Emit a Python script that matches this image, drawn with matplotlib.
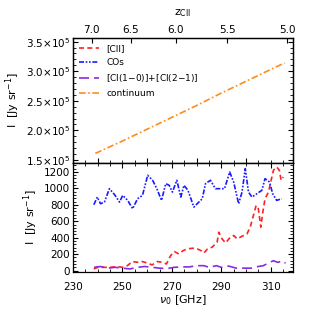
import matplotlib
matplotlib.use("Agg")
import matplotlib.pyplot as plt
from matplotlib.ticker import FixedLocator, FuncFormatter, MultipleLocator

# series
NU_CO = [238.4, 239.8, 241.1, 242.7, 244.7, 246.8, 248.8, 250.1, 252.1, 254.1,
         256.1, 258.1, 260.2, 262.2, 263.9, 265.8, 267.5, 268.9, 270.2, 272.0,
         273.6, 274.9, 276.5, 278.9, 280.9, 282.3, 283.6, 285.6, 287.6, 289.7,
         291.3, 293.4, 295.0, 297.0, 298.4, 299.7, 301.0, 302.4, 304.4, 306.4,
         307.7, 309.5, 310.8, 312.4, 314.5]
CO = [801, 894, 813, 833, 996, 923, 833, 915, 854, 752,
      874, 915, 1159, 1098, 996, 854, 1057, 1037, 955, 1098,
      894, 1037, 976, 772, 833, 874, 1057, 1098, 996, 996,
      996, 1199, 1077, 813, 955, 1240, 955, 894, 935, 976,
      1118, 1077, 935, 854, 874]

NU_CII = [238.4, 240.0, 242.0, 245.0, 248.0, 250.0, 252.0, 254.0, 256.0, 258.0,
          260.0, 262.0, 264.0, 266.0, 267.8, 269.5, 271.0, 272.8, 274.6, 276.3,
          278.3, 280.3, 281.7, 283.0, 284.4, 286.3, 288.3, 289.0, 290.3, 291.7,
          293.7, 295.0, 296.4, 297.7, 299.0, 300.4, 301.7, 303.0, 304.1, 305.0,
          306.0, 306.8, 307.7, 309.1, 310.0, 311.1, 312.4, 313.5, 314.2, 315.1]
CII = [20, 40, 40, 40, 49, 40, 61, 110, 102, 110,
       93, 69, 110, 102, 81, 183, 232, 203, 244, 264,
       272, 264, 244, 215, 264, 285, 346, 467, 386, 337,
       407, 427, 386, 407, 427, 447, 528, 671, 793, 752,
       528, 711, 874, 955, 1077, 1220, 1260, 1220, 1098, 1138]

NU_CI = [238.5, 241, 244, 247, 250, 253, 256, 259, 262, 265,
         268, 271, 274, 277, 280, 283, 285, 288, 290, 293,
         296, 299, 302, 305, 307, 309, 311, 313, 314.5, 316]
CI = [40, 50, 30, 40, 30, 20, 40, 50, 40, 30,
      25, 40, 45, 45, 60, 60, 40, 60, 40, 55,
      30, 30, 30, 50, 60, 90, 120, 100, 120, 90]

NU_CONT = [239.0, 250.0, 260.0, 270.0, 280.0, 290.0, 300.0, 310.0, 315.6]
CONT = [1.61e5, 1.82e5, 2.02e5, 2.22e5, 2.42e5, 2.63e5, 2.83e5, 3.03e5, 3.14e5]

Z_TICKS = [7.0, 6.5, 6.0, 5.5, 5.0]
NU_CII_REST = 1900.537

RED = "#ff2020"
BLUE = "#1a1aff"
PURPLE = "#8a2be2"
ORANGE = "#ff8c1a"

LS_CII = (0, (3, 2))
LS_CO = (0, (3, 1, 1, 1, 1, 1))
LS_CI = (0, (6, 3))
LS_CONT = (0, (4, 1.5, 1, 1.5))

plt.rcParams["font.family"] = ["DejaVu Sans"]
plt.rcParams["font.size"] = 7.5
plt.rcParams["xtick.direction"] = "in"
plt.rcParams["ytick.direction"] = "in"
plt.rcParams["axes.linewidth"] = 0.9

fig = plt.figure(figsize=(3.15, 3.15), dpi=100)
ax1 = fig.add_axes([0.232, 0.483, 0.698, 0.396])
ax2 = fig.add_axes([0.232, 0.137, 0.698, 0.346])

xlim = (230, 319)
lw = 1.2

ax1.plot([], [], ls=LS_CII, color=RED, lw=lw, label="[CII]")
ax1.plot([], [], ls=LS_CO, color=BLUE, lw=lw, label="COs")
ax1.plot([], [], ls=LS_CI, color=PURPLE, lw=lw, label="[CI(1$-$0)]+[CI(2$-$1)]")
ax1.plot(NU_CONT, CONT, ls=LS_CONT, color=ORANGE, lw=lw, label="continuum")
ax1.set_xlim(*xlim)
ax1.set_ylim(1.45e5, 3.56e5)
ax1.yaxis.set_major_locator(FixedLocator([1.5e5, 2.0e5, 2.5e5, 3.0e5, 3.5e5]))
ax1.yaxis.set_minor_locator(MultipleLocator(0.1e5))
ax1.yaxis.set_major_formatter(FuncFormatter(lambda v, p: r"$%.1f{\times}10^5$" % (v / 1e5)))
ax1.xaxis.set_major_locator(MultipleLocator(20))
ax1.xaxis.set_minor_locator(MultipleLocator(5))
ax1.tick_params(axis="x", which="both", labelbottom=False, top=False)
ax1.tick_params(axis="y", which="both", right=True, pad=2)
ax1.set_ylabel(r"I  [Jy sr$^{-1}$]", fontsize=8, labelpad=3)
ax1.legend(loc="upper left", frameon=False, fontsize=6.5, handlelength=2.2,
           borderaxespad=0.3, labelspacing=0.55)

top = ax1.twiny()
top.set_xlim(*xlim)
top.xaxis.set_major_locator(FixedLocator([NU_CII_REST / (1 + z) for z in Z_TICKS]))
top.set_xticklabels(["%.1f" % z for z in Z_TICKS])
top.tick_params(axis="x", direction="in", labelsize=7.5, pad=2)
top.set_xlabel(r"z$_{\rm CII}$", fontsize=8, labelpad=7)

ax2.plot(NU_CII, CII, ls=LS_CII, color=RED, lw=lw)
ax2.plot(NU_CO, CO, ls=LS_CO, color=BLUE, lw=lw)
ax2.plot(NU_CI, CI, ls=LS_CI, color=PURPLE, lw=lw)
ax2.set_xlim(*xlim)
ax2.set_ylim(-15, 1310)
ax2.yaxis.set_major_locator(MultipleLocator(200))
ax2.yaxis.set_minor_locator(MultipleLocator(40))
ax2.xaxis.set_major_locator(FixedLocator([230, 250, 270, 290, 310]))
ax2.xaxis.set_major_formatter(FuncFormatter(lambda v, p: "%d" % v))
ax2.xaxis.set_minor_locator(MultipleLocator(5))
ax2.tick_params(axis="both", which="both", right=True, top=True, pad=2)
ax2.tick_params(axis="x", which="major", pad=7)
ax2.set_ylabel(r"I  [Jy sr$^{-1}$]", fontsize=8, labelpad=3)
ax2.set_xlabel(r"$\nu_0$ [GHz]", fontsize=8, labelpad=1)

fig.savefig("out.png", dpi=100)
